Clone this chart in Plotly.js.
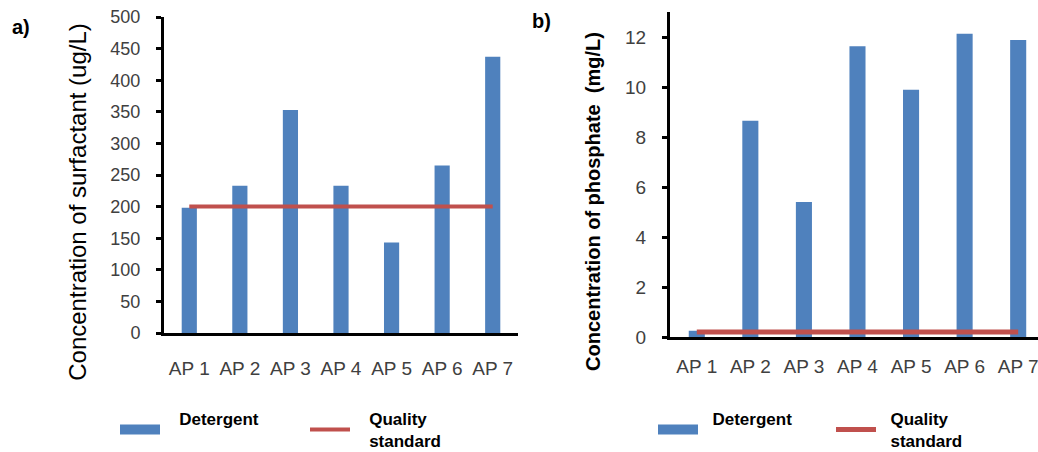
<!DOCTYPE html>
<html><head><meta charset="utf-8">
<script src="https://cdn.plot.ly/plotly-3.0.1.min.js"></script>
<style>html,body{margin:0;padding:0;background:#fff;overflow:hidden}</style>
</head><body><div id="chart" style="width:1038px;height:452px"></div>
<script>
const categories = ['AP 1','AP 2','AP 3','AP 4','AP 5','AP 6','AP 7'];
const surfactant = [198, 233, 353, 233, 143, 265, 437];
const surfactantStandard = [200, 200, 200, 200, 200, 200, 200];
const phosphate = [0.25, 8.65, 5.4, 11.63, 9.89, 12.13, 11.88];
const phosphateStandard = [0.2, 0.2, 0.2, 0.2, 0.2, 0.2, 0.2];
const surfactantTicks = [0, 50, 100, 150, 200, 250, 300, 350, 400, 450, 500];
const phosphateTicks = [0, 2, 4, 6, 8, 10, 12];

const BLUE = '#4F81BD', RED = '#C0504D';
const FONT = 'Liberation Sans, Arial, sans-serif';
const NB = '\u00a0';
const PADA = NB + NB + NB, PADB = NB + NB;

const traces = [
  {type:'bar', x:categories, y:surfactant, width:0.3, marker:{color:BLUE},
   xaxis:'x', yaxis:'y', name:'Detergent', legendgroup:'d1', showlegend:false, legend:'legend'},
  {type:'scatter', mode:'lines', x:[null], y:[null], xaxis:'x', yaxis:'y',
   line:{color:BLUE, width:12}, name:PADA + 'Detergent<br>' + NB, legendgroup:'d1', legend:'legend'},
  {type:'scatter', mode:'lines', x:categories, y:surfactantStandard, line:{color:RED, width:4},
   xaxis:'x', yaxis:'y', name:PADA + 'Quality<br>' + PADA + 'standard', legend:'legend'},
  {type:'bar', x:categories, y:phosphate, width:0.3, marker:{color:BLUE},
   xaxis:'x2', yaxis:'y2', name:'Detergent', legendgroup:'d2', showlegend:false, legend:'legend2'},
  {type:'scatter', mode:'lines', x:[null], y:[null], xaxis:'x2', yaxis:'y2',
   line:{color:BLUE, width:12}, name:PADB + 'Detergent<br>' + NB, legendgroup:'d2', legend:'legend2'},
  {type:'scatter', mode:'lines', x:categories, y:phosphateStandard, line:{color:RED, width:5},
   xaxis:'x2', yaxis:'y2', name:PADB + 'Quality<br>' + PADB + 'standard', legend:'legend2'}
];

const W = 1038, H = 452;
const legendCommon = {orientation:'h', xanchor:'left', yanchor:'middle', bgcolor:'rgba(0,0,0,0)',
  font:{family:FONT, size:17, color:'#000', weight:'bold'}, itemwidth:40,
  valign:'middle', itemclick:false, itemdoubleclick:false};

const layout = {
  width:W, height:H, margin:{l:0, r:0, t:0, b:0, autoexpand:false},
  paper_bgcolor:'#fff', plot_bgcolor:'#fff',
  font:{family:FONT, color:'#000'},
  xaxis:{domain:[164/W, 518/W], anchor:'y', type:'category', range:[-0.5, 6.5],
    showline:true, linecolor:'#000', linewidth:3, ticks:'', showgrid:false, automargin:false,
    tickfont:{size:19, color:'#404040'}, ticklabelstandoff:16},
  yaxis:{domain:[(H-333)/H, (H-17)/H], anchor:'x', range:[0, 500], tickvals:surfactantTicks,
    showline:true, linecolor:'#000', linewidth:3, ticks:'outside', ticklen:5, tickwidth:3, tickcolor:'#000',
    showgrid:false, zeroline:false, automargin:false, tickfont:{size:18, color:'#404040'}, ticklabelstandoff:12,
    title:{text:'Concentration of surfactant (ug/L)', font:{size:24, color:'#000'}, standoff:17}},
  xaxis2:{domain:[670/W, 1], anchor:'y2', type:'category', range:[-0.5, 6.37],
    showline:true, linecolor:'#000', linewidth:3, ticks:'', showgrid:false, automargin:false,
    tickfont:{size:19, color:'#404040'}, ticklabelstandoff:10},
  yaxis2:{domain:[(H-337)/H, (H-12)/H], anchor:'x2', range:[0, 13], tickvals:phosphateTicks,
    showline:true, linecolor:'#000', linewidth:3, ticks:'outside', ticklen:5, tickwidth:3, tickcolor:'#000',
    showgrid:false, zeroline:false, automargin:false, tickfont:{size:19, color:'#404040'}, ticklabelstandoff:12,
    title:{text:'Concentration of phosphate  (mg/L)', font:{size:20, color:'#000', weight:'bold'}, standoff:20}},
  legend:Object.assign({}, legendCommon, {x:115/W, y:(H-430)/H, entrywidth:135}),
  legend2:Object.assign({}, legendCommon, {x:653/W, y:(H-430)/H, entrywidth:123}),
  annotations:[
    {text:'<b>a)</b>', xref:'paper', yref:'paper', x:10/W, y:(H-27)/H, xanchor:'left', yanchor:'middle',
     showarrow:false, font:{size:20, color:'#000'}},
    {text:'<b>b)</b>', xref:'paper', yref:'paper', x:530/W, y:(H-21)/H, xanchor:'left', yanchor:'middle',
     showarrow:false, font:{size:20, color:'#000'}}
  ],
  showlegend:true
};

Plotly.newPlot('chart', traces, layout, {staticPlot:true, displayModeBar:false}).then(function(gd){
  // the original titles are centred on the whole chart height rather than the plot area
  ['ytitle', 'y2title'].forEach(function(cls){
    var t = gd.querySelector('.g-' + cls);
    if (t) t.setAttribute('transform', 'translate(0,27)');
  });
});
</script></body></html>
